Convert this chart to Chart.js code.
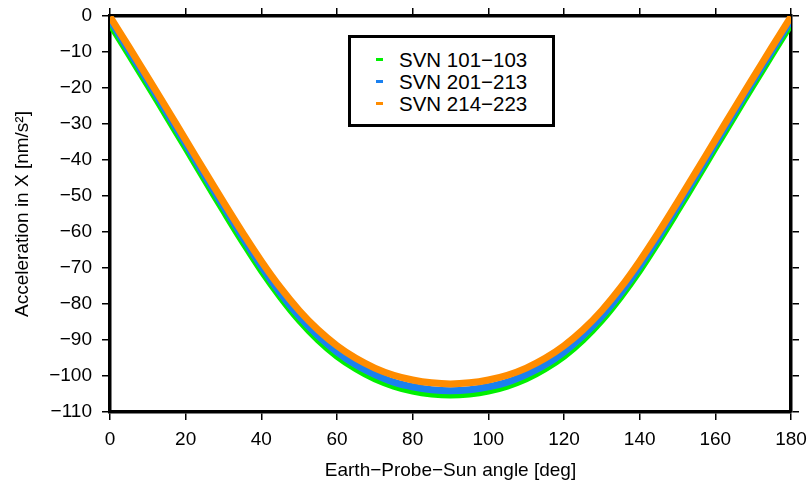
<!DOCTYPE html>
<html>
<head>
<meta charset="utf-8">
<script src="https://cdn.jsdelivr.net/npm/chart.js@4.4.1/dist/chart.umd.min.js"></script>
<style>
  body { margin: 0; background: #fff; }
  #wrap { position: relative; width: 811px; height: 482px; }
  #legend {
    position: absolute; left: 348px; top: 35px; width: 201px; height: 86px;
    border: 3px solid #000; background: #fff;
    font-family: "Liberation Sans", Arial, sans-serif; font-size: 20.5px; color: #000;
  }
  #legend .row { position: absolute; left: 0; height: 22px; line-height: 22px; white-space: nowrap; }
  #legend .sw { position: absolute; left: 25px; top: 9px; width: 7px; height: 3px; }
  #legend .txt { position: absolute; left: 48px; top: 0; }
</style>
</head>
<body>
<div id="wrap">
  <canvas id="chart" width="811" height="482"></canvas>
  <div id="legend"></div>
</div>
<script>
// Earth-Probe-Sun angle [deg]
const angles = [0, 5, 10, 15, 20, 25, 30, 35, 40, 45, 50, 55, 60, 65, 70, 75, 80, 85, 90,
  95, 100, 105, 110, 115, 120, 125, 130, 135, 140, 145, 150, 155, 160, 165, 170, 175, 180];

// acceleration in X [nm/s^2]
const svn101 = [-2.2, -10.7, -19.2, -27.9, -36.6, -45.4, -54.1, -62.6, -70.7, -78.0, -84.5, -90.0, -94.5, -98.0, -100.8, -102.8, -104.2, -105.0, -105.3,
  -105.0, -104.2, -102.8, -100.8, -98.0, -94.5, -90.0, -84.5, -78.0, -70.7, -62.6, -54.1, -45.4, -36.6, -27.9, -19.2, -10.7, -2.2];
const svn201 = [-1.1, -9.6, -18.1, -26.8, -35.5, -44.3, -52.9, -61.4, -69.5, -76.9, -83.4, -88.8, -93.3, -96.9, -99.6, -101.7, -103.0, -103.8, -104.1,
  -103.8, -103.0, -101.7, -99.6, -96.9, -93.3, -88.8, -83.4, -76.9, -69.5, -61.4, -52.9, -44.3, -35.5, -26.8, -18.1, -9.6, -1.1];
const svn214 = [-0.2, -8.6, -17.1, -25.7, -34.4, -43.1, -51.7, -60.1, -68.1, -75.4, -81.8, -87.2, -91.6, -95.1, -97.8, -99.8, -101.1, -101.9, -102.2,
  -101.9, -101.1, -99.8, -97.8, -95.1, -91.6, -87.2, -81.8, -75.4, -68.1, -60.1, -51.7, -43.1, -34.4, -25.7, -17.1, -8.6, -0.2];

const seriesNames = ['SVN 101\u2212103', 'SVN 201\u2212213', 'SVN 214\u2212223'];
const seriesColors = ['#00f000', '#1a80f0', '#ff8c00'];

const font = { family: '"Liberation Sans", Arial, sans-serif', size: 19 };
const minus = v => String(v).replace('-', '\u2212');

function pts(ys) {
  return angles.map((a, i) => ({ x: a, y: ys[i] }));
}

const datasets = [svn101, svn201, svn214].map((ys, i) => ({
  label: seriesNames[i],
  data: pts(ys),
  borderColor: seriesColors[i],
  borderWidth: 7,
  pointRadius: 0,
  tension: 0.4,
  order: 3 - i
}));

const frame = { display: true, color: '#000', width: 3.5 };
const marks = { drawOnChartArea: false, drawTicks: true, tickLength: 8, color: '#000', lineWidth: 1.5 };

// labels may overhang the frame, so drop the extra room Chart.js keeps for them
const noPadX = s => { s.paddingLeft = 0; s.paddingRight = 0; };
const noPadY = s => { s.paddingTop = 0; s.paddingBottom = 0; };

new Chart(document.getElementById('chart'), {
  type: 'line',
  data: { datasets },
  options: {
    responsive: false,
    animation: false,
    layout: { padding: { top: 8, right: 12, bottom: 0, left: 0 } },
    plugins: { legend: { display: false }, tooltip: { enabled: false } },
    scales: {
      x: {
        type: 'linear', position: 'bottom', min: 0, max: 180,
        ticks: { stepSize: 20, color: '#000', font, padding: 8, maxRotation: 0 },
        grid: marks, border: frame,
        title: { display: true, text: 'Earth\u2212Probe\u2212Sun angle [deg]', color: '#000', font, padding: { top: 0, bottom: 0 } },
        afterFit: s => { s.height = 70; noPadX(s); }
      },
      x2: {
        type: 'linear', position: 'top', min: 0, max: 180,
        ticks: { stepSize: 20, display: false },
        grid: marks, border: frame,
        afterFit: noPadX
      },
      y: {
        type: 'linear', position: 'left', min: -110, max: 0,
        ticks: { stepSize: 10, color: '#000', font, padding: 10, callback: v => minus(v) },
        grid: marks, border: frame,
        title: { display: true, text: 'Acceleration in X [nm/s\u00b2]', color: '#000', font, padding: { top: 11, bottom: 0 } },
        afterFit: s => { s.width = 110; noPadY(s); }
      },
      y2: {
        type: 'linear', position: 'right', min: -110, max: 0,
        ticks: { stepSize: 10, display: false },
        grid: marks, border: frame,
        afterFit: noPadY
      }
    }
  }
});

const legend = document.getElementById('legend');
seriesNames.forEach((name, i) => {
  const row = document.createElement('div');
  row.className = 'row';
  row.style.top = (11 + i * 22) + 'px';
  row.innerHTML = `<span class="sw" style="background:${seriesColors[i]}"></span><span class="txt">${name}</span>`;
  legend.appendChild(row);
});
</script>
</body>
</html>
